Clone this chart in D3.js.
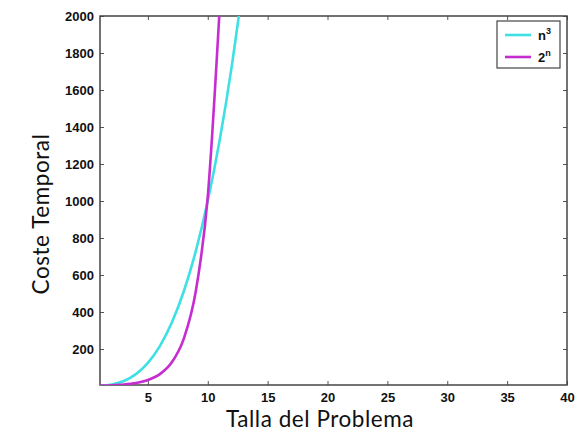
<!DOCTYPE html>
<html>
<head>
<meta charset="utf-8">
<script src="https://cdn.jsdelivr.net/npm/d3@7"></script>
<style>
  body { margin: 0; background: #fff; }
  .tick text { font-family: "Liberation Sans", Arial, sans-serif; font-weight: bold; font-size: 13px; fill: #111; }
  .lbl { font-family: Lato, "Open Sans", sans-serif; font-size: 22.5px; letter-spacing: 0.55px; fill: #111; }
</style>
</head>
<body>
<svg id="chart" width="576" height="431"></svg>
<script>
// problem sizes and costs
var sizes = [1, 2, 3, 4, 5, 6, 7, 8, 9, 10, 11, 12, 13];
var cubic = [1, 8, 27, 64, 125, 216, 343, 512, 729, 1000, 1331, 1728, 2197];
var expo  = [2, 4, 8, 16, 32, 64, 128, 256, 512, 1024, 2048];
var xticks = [5, 10, 15, 20, 25, 30, 35, 40];
var yticks = [200, 400, 600, 800, 1000, 1200, 1400, 1600, 1800, 2000];
var series_names = ['n3', '2n'];

var margin = {left: 100, top: 16, right: 9, bottom: 47};
var W = 576, H = 431;
var svg = d3.select('#chart');

var x = d3.scaleLinear().domain([1, 40]).range([margin.left, W - margin.right]);
var y = d3.scaleLinear().domain([0, 2000]).range([H - margin.bottom + 2, margin.top]);
var plotBottom = H - margin.bottom + 1;

svg.append('clipPath').attr('id', 'clip')
    .append('rect')
    .attr('x', x(1)).attr('y', y(2000))
    .attr('width', x(40) - x(1)).attr('height', plotBottom - y(2000));

// axes (ticks pointing inside, like matlab)
var xAxis = svg.append('g')
    .attr('transform', 'translate(0,' + plotBottom + ')')
    .call(d3.axisBottom(x).tickValues(xticks).tickSize(-4).tickPadding(8).tickFormat(d3.format('d')));
var xTop = svg.append('g')
    .attr('transform', 'translate(0,' + y(2000) + ')')
    .call(d3.axisTop(x).tickValues(xticks).tickSize(-4).tickFormat(''));
var yAxis = svg.append('g')
    .attr('transform', 'translate(' + x(1) + ',0)')
    .call(d3.axisLeft(y).tickValues(yticks).tickSize(-4).tickPadding(6).tickFormat(d3.format('d')));
var yRight = svg.append('g')
    .attr('transform', 'translate(' + x(40) + ',0)')
    .call(d3.axisRight(y).tickValues(yticks).tickSize(-4).tickFormat(''));

[xAxis, xTop, yAxis, yRight].forEach(function(g) {
    g.select('.domain').remove();
    g.selectAll('.tick line').attr('stroke', '#555');
});

// frame
svg.append('rect')
    .attr('x', x(1)).attr('y', y(2000))
    .attr('width', x(40) - x(1)).attr('height', plotBottom - y(2000))
    .attr('fill', 'none')
    .attr('stroke', '#444')
    .attr('stroke-width', 1.5);

var line = d3.line()
    .x(function(d) { return x(d[0]); })
    .y(function(d) { return y(d[1]); })
    .curve(d3.curveMonotoneX);

var colors = {n3: '#3ee0e4', '2n': '#c62ccf'};

var plot = svg.append('g').attr('clip-path', 'url(#clip)');
plot.append('path')
    .datum(cubic.map(function(v, i) { return [sizes[i], v]; }))
    .attr('d', line)
    .attr('fill', 'none')
    .attr('stroke', colors.n3)
    .attr('stroke-width', 2.6);
plot.append('path')
    .datum(expo.map(function(v, i) { return [sizes[i], v]; }))
    .attr('d', line)
    .attr('fill', 'none')
    .attr('stroke', colors['2n'])
    .attr('stroke-width', 2.6);

// legend
var leg = svg.append('g');
leg.append('rect')
    .attr('x', 497).attr('y', 21).attr('width', 63).attr('height', 47)
    .attr('fill', '#fff').attr('stroke', '#444').attr('stroke-width', 1.2);

var legItems = leg.selectAll('g.item')
    .data(series_names)
    .enter()
    .append('g')
    .attr('class', 'item')
    .attr('transform', function(d, i) { return 'translate(0,' + (35 + i * 22) + ')'; });

legItems.append('line')
    .attr('x1', 505).attr('x2', 531)
    .attr('y1', 0).attr('y2', 0)
    .attr('stroke', function(d) { return colors[d]; })
    .attr('stroke-width', 2.6);

var legText = legItems.append('text')
    .attr('x', 538).attr('y', 5)
    .attr('font-family', '"Liberation Sans", Arial, sans-serif')
    .attr('font-weight', 'bold')
    .attr('font-size', 13)
    .attr('fill', '#111');
legText.append('tspan').text(function(d) { return d[0]; });
legText.append('tspan')
    .attr('dy', -6)
    .attr('font-size', 9)
    .text(function(d) { return d[1]; });

// axis labels
svg.append('text')
    .attr('class', 'lbl')
    .attr('x', 320).attr('y', 427)
    .attr('text-anchor', 'middle')
    .text('Talla del Problema');
svg.append('text')
    .attr('class', 'lbl')
    .attr('transform', 'translate(49,214) rotate(-90)')
    .attr('text-anchor', 'middle')
    .text('Coste Temporal');
</script>
</body>
</html>
